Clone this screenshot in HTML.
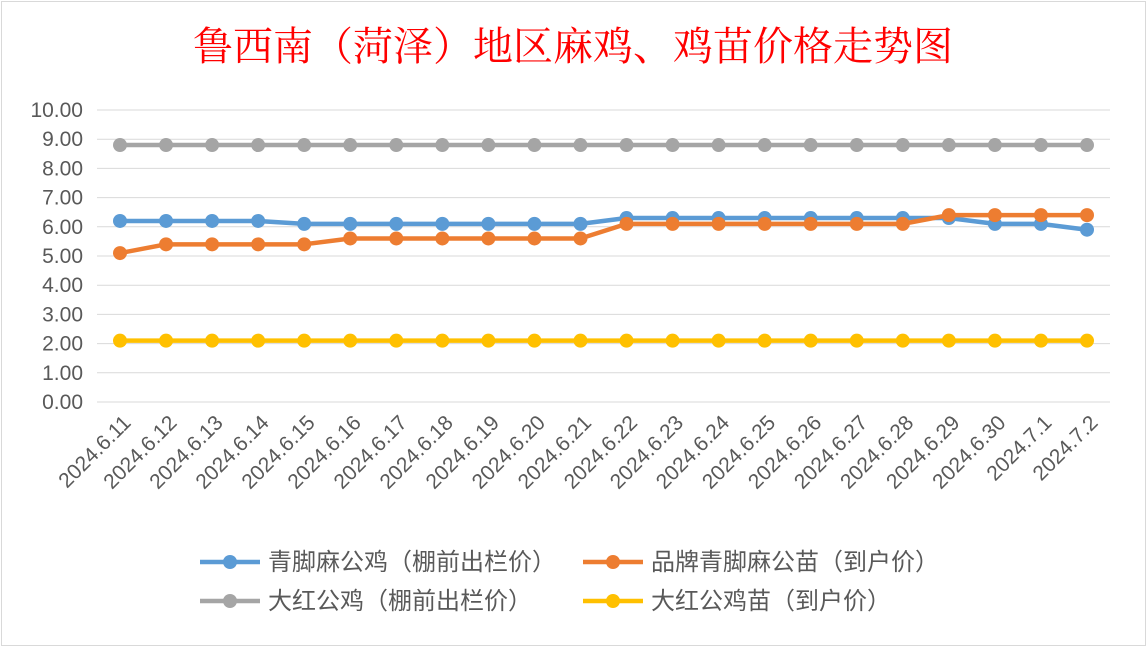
<!DOCTYPE html>
<html><head><meta charset="utf-8">
<style>
html,body{margin:0;padding:0;background:#fff;}
body{width:1147px;height:647px;overflow:hidden;font-family:"Liberation Sans","Noto Sans CJK SC",sans-serif;}
#frame{position:absolute;left:1px;top:1px;width:1143px;height:643px;border:1px solid #d9d9d9;}
</style></head><body>
<div id="frame"></div>
<svg id="chart" width="1147" height="647" style="position:absolute;left:0;top:0">
<text x="573" y="60" text-anchor="middle" font-size="40" fill="#ff0000" font-family="Liberation Serif, Noto Serif CJK SC, serif">鲁西南（菏泽）地区麻鸡、鸡苗价格走势图</text>
<g id="grid"></g><g id="ylabels"></g><g id="xlabels"></g><g id="series"></g><g id="legend"></g>
</svg>
<script>
const categories=["2024.6.11","2024.6.12","2024.6.13","2024.6.14","2024.6.15","2024.6.16","2024.6.17","2024.6.18","2024.6.19","2024.6.20","2024.6.21","2024.6.22","2024.6.23","2024.6.24","2024.6.25","2024.6.26","2024.6.27","2024.6.28","2024.6.29","2024.6.30","2024.7.1","2024.7.2"];
const blueValues=[6.2,6.2,6.2,6.2,6.1,6.1,6.1,6.1,6.1,6.1,6.1,6.3,6.3,6.3,6.3,6.3,6.3,6.3,6.3,6.1,6.1,5.9];
const orangeValues=[5.1,5.4,5.4,5.4,5.4,5.6,5.6,5.6,5.6,5.6,5.6,6.1,6.1,6.1,6.1,6.1,6.1,6.1,6.4,6.4,6.4,6.4];
const grayValues=[8.8,8.8,8.8,8.8,8.8,8.8,8.8,8.8,8.8,8.8,8.8,8.8,8.8,8.8,8.8,8.8,8.8,8.8,8.8,8.8,8.8,8.8];
const yellowValues=[2.1,2.1,2.1,2.1,2.1,2.1,2.1,2.1,2.1,2.1,2.1,2.1,2.1,2.1,2.1,2.1,2.1,2.1,2.1,2.1,2.1,2.1];
const yTicks=[0,1,2,3,4,5,6,7,8,9,10];
const seriesNames=["青脚麻公鸡（棚前出栏价）","品牌青脚麻公苗（到户价）","大红公鸡（棚前出栏价）","大红公鸡苗（到户价）"];

const NS="http://www.w3.org/2000/svg";
const x0=120,x1=1087,yBase=402,yTop=110,yMax=10;
const xs=i=>x0+(x1-x0)*i/(categories.length-1);
const ys=v=>yBase-(yBase-yTop)*v/yMax;
function mk(tag,attrs,parent){const e=document.createElementNS(NS,tag);for(const k in attrs)e.setAttribute(k,attrs[k]);parent.appendChild(e);return e;}
const grid=document.getElementById('grid'),yl=document.getElementById('ylabels'),xl=document.getElementById('xlabels'),sg=document.getElementById('series'),lg=document.getElementById('legend');
yTicks.forEach(t=>{
  const l=mk('line',{x1:97,x2:1110,y1:ys(t),y2:ys(t),stroke:'#d9d9d9','stroke-width':1},grid);
  
  
  const tx=mk('text',{x:83,y:ys(t)+7,'text-anchor':'end','font-size':21,fill:'#595959'},yl);
  tx.textContent=t.toFixed(2);
  
  
});
categories.forEach((c,i)=>{
  const x=xs(i)+12,y=424;
  const tx=mk('text',{x:x,y:y,'text-anchor':'end','font-size':21,fill:'#595959',transform:`rotate(-45 ${x} ${y})`},xl);
  tx.textContent=c;
  
  
});
const allSeries=[[grayValues,'#a5a5a5'],[yellowValues,'#ffc000'],[blueValues,'#5b9bd5'],[orangeValues,'#ed7d31']];
const seriesKeys=['gray','yellow','blue','orange'];
allSeries.forEach(([vals,col],k)=>{
  const g=mk('g',{},sg);
  
  
  const p=mk('polyline',{points:vals.map((v,i)=>xs(i)+','+ys(v)).join(' '),fill:'none',stroke:col,'stroke-width':4.5,'stroke-linejoin':'round'},g);
  
  
  vals.forEach((v,i)=>{
    const c=mk('circle',{cx:xs(i),cy:ys(v),r:7,fill:col},g);
    
    
  });
});
const legendItems=[[200,562,'#5b9bd5',0],[583,562,'#ed7d31',1],[200,601,'#a5a5a5',2],[583,601,'#ffc000',3]];
legendItems.forEach(([x,y,col,k])=>{
  const g=mk('g',{},lg);
  
  
  mk('line',{x1:x,x2:x+60,y1:y,y2:y,stroke:col,'stroke-width':4.5},g);
  mk('circle',{cx:x+30,cy:y,r:7,fill:col},g);
  const t=mk('text',{x:x+68,y:y+8,'font-size':24,fill:'#595959'},g);
  t.textContent=seriesNames[k];
});
</script>
</body></html>
